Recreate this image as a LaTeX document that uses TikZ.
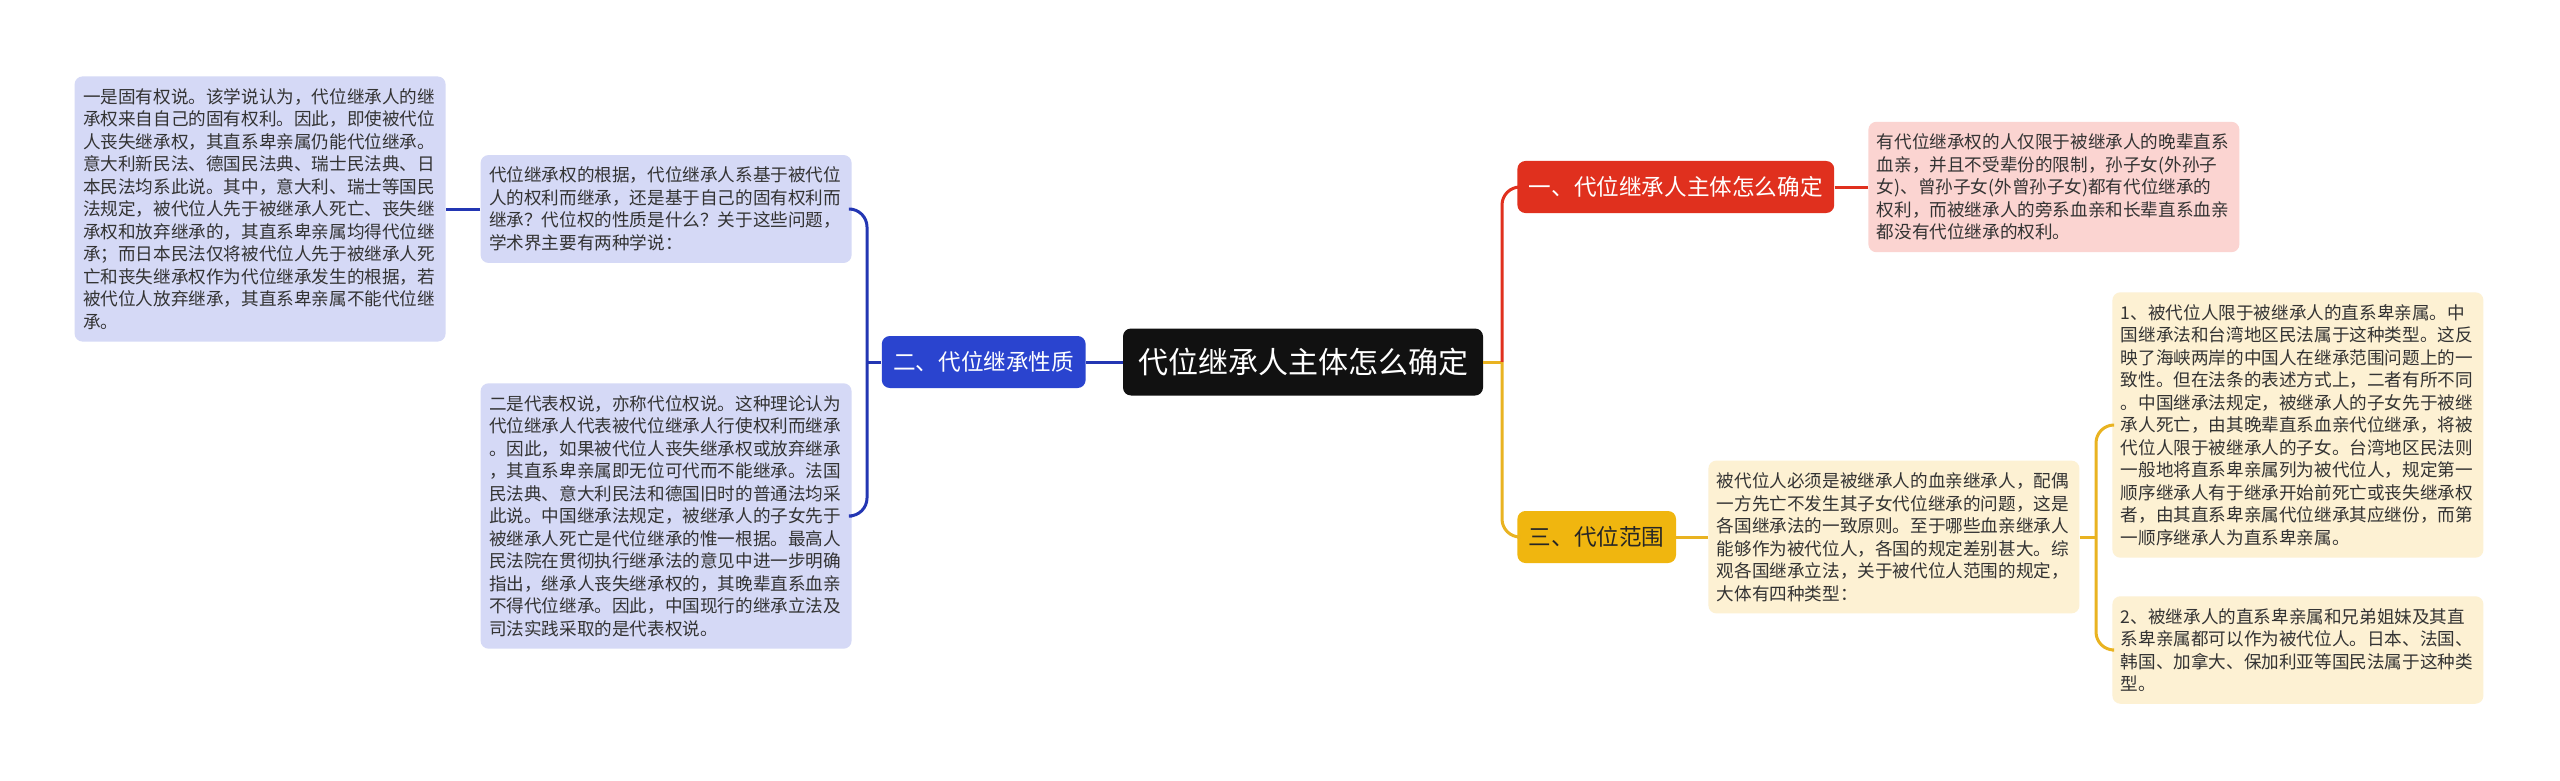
\documentclass[tikz,border=0pt]{standalone}
\usepackage{fontspec}
\usepackage{xcolor}
\newfontfamily\cjk{Noto Sans CJK SC}
\definecolor{rootblack}{HTML}{111111}
\definecolor{bluedeep}{HTML}{2A44CF}
\definecolor{blueline}{HTML}{2336B3}
\definecolor{bluepale}{HTML}{D5D9F6}
\definecolor{reddeep}{HTML}{E0301E}
\definecolor{redpale}{HTML}{FBD4D1}
\definecolor{yellowdeep}{HTML}{F0B60F}
\definecolor{yellowline}{HTML}{E9B321}
\definecolor{yellowpale}{HTML}{FDF1D3}
\definecolor{leaftext}{HTML}{333333}

\begin{document}
\begin{tikzpicture}[
        x=0.5pt, y=-0.5pt,
        font=\cjk,
        root/.style={fill=rootblack, text=white, rounded corners=4pt,
            font=\cjk\fontsize{15}{18}\selectfont, minimum height=33.5pt, inner xsep=7.5pt},
        topic/.style={rounded corners=4pt, font=\cjk\fontsize{11.3}{14}\selectfont,
            minimum height=26pt, inner xsep=5.75pt},
        leaf/.style={rounded corners=4pt, text=leaftext, font=\cjk\fontsize{8.8}{11.25}\selectfont,
            text width=177pt, align=left, inner xsep=4.25pt, inner ysep=6pt},
        bline/.style={draw=blueline, line width=1.5pt},
        rline/.style={draw=reddeep, line width=1.5pt},
        yline/.style={draw=yellowline, line width=1.5pt}
    ]
        \fill[white] (0,0) rectangle (2560,781);
        \useasboundingbox (0,0) rectangle (2560,781);

        \node[root] (main) at (1303,362) {代位继承人主体怎么确定};

        % left branch
        \node[topic, fill=bluedeep, text=white, anchor=east] (nature) at (1086,362) {二、代位继承性质};
        \node[leaf, fill=bluepale, anchor=east] (basis) at (852,209) {代位继承权的根据，代位继承人系基于被代位\\人的权利而继承，还是基于自己的固有权利而\\继承？代位权的性质是什么？关于这些问题，\\学术界主要有两种学说：};
        \node[leaf, fill=bluepale, anchor=east] (inherent) at (446,209) {一是固有权说。该学说认为，代位继承人的继\\承权来自自己的固有权利。因此，即使被代位\\人丧失继承权，其直系卑亲属仍能代位继承。\\意大利新民法、德国民法典、瑞士民法典、日\\本民法均系此说。其中，意大利、瑞士等国民\\法规定，被代位人先于被继承人死亡、丧失继\\承权和放弃继承的，其直系卑亲属均得代位继\\承；而日本民法仅将被代位人先于被继承人死\\亡和丧失继承权作为代位继承发生的根据，若\\被代位人放弃继承，其直系卑亲属不能代位继\\承。};
        \node[leaf, fill=bluepale, anchor=east] (represent) at (852,516) {二是代表权说，亦称代位权说。这种理论认为\\代位继承人代表被代位继承人行使权利而继承\\。因此，如果被代位人丧失继承权或放弃继承\\，其直系卑亲属即无位可代而不能继承。法国\\民法典、意大利民法和德国旧时的普通法均采\\此说。中国继承法规定，被继承人的子女先于\\被继承人死亡是代位继承的惟一根据。最高人\\民法院在贯彻执行继承法的意见中进一步明确\\指出，继承人丧失继承权的，其晚辈直系血亲\\不得代位继承。因此，中国现行的继承立法及\\司法实践采取的是代表权说。};

        % right branches
        \node[topic, fill=reddeep, text=white, anchor=west] (subject) at (1517,187) {一、代位继承人主体怎么确定};
        \node[leaf, fill=redpale, anchor=west] (limit) at (1868,187) {有代位继承权的人仅限于被继承人的晚辈直系\\血亲，并且不受辈份的限制，孙子女(外孙子\\女)、曾孙子女(外曾孙子女)都有代位继承的\\权利，而被继承人的旁系血亲和长辈直系血亲\\都没有代位继承的权利。};
        \node[topic, fill=yellowdeep, text=black!85, anchor=west] (scope) at (1517,537) {三、代位范围};
        \node[leaf, fill=yellowpale, anchor=west] (blood) at (1708,537) {被代位人必须是被继承人的血亲继承人，配偶\\一方先亡不发生其子女代位继承的问题，这是\\各国继承法的一致原则。至于哪些血亲继承人\\能够作为被代位人，各国的规定差别甚大。综\\观各国继承立法，关于被代位人范围的规定，\\大体有四种类型：};
        \node[leaf, fill=yellowpale, anchor=west] (typeA) at (2112,425) {1、被代位人限于被继承人的直系卑亲属。中\\国继承法和台湾地区民法属于这种类型。这反\\映了海峡两岸的中国人在继承范围问题上的一\\致性。但在法条的表述方式上，二者有所不同\\。中国继承法规定，被继承人的子女先于被继\\承人死亡，由其晚辈直系血亲代位继承，将被\\代位人限于被继承人的子女。台湾地区民法则\\一般地将直系卑亲属列为被代位人，规定第一\\顺序继承人有于继承开始前死亡或丧失继承权\\者，由其直系卑亲属代位继承其应继份，而第\\一顺序继承人为直系卑亲属。};
        \node[leaf, fill=yellowpale, anchor=west] (typeB) at (2112,650) {2、被继承人的直系卑亲属和兄弟姐妹及其直\\系卑亲属都可以作为被代位人。日本、法国、\\韩国、加拿大、保加利亚等国民法属于这种类\\型。};

        \coordinate (bt) at (867,362);
        \coordinate (rt) at (1502,362);
        \coordinate (yt) at (2096,537);

        \draw[bline] (main.west) -- (nature.east);
        \draw[bline] (nature.west) -- (bt);
        \draw[bline, rounded corners=9pt] (basis.east) -| (bt) |- (represent.east);
        \draw[bline] (basis.west) -- (inherent.east);

        \draw[yline] (main.east) -- (rt);
        \draw[rline, rounded corners=9pt] (rt) |- (subject.west);
        \draw[yline, rounded corners=9pt] (rt) |- (scope.west);
        \draw[rline] (subject.east) -- (limit.west);
        \draw[yline] (scope.east) -- (blood.west);
        \draw[yline] (blood.east) -- (yt);
        \draw[yline, rounded corners=9pt] (typeA.west) -| (yt) |- (typeB.west);
    \end{tikzpicture}
\end{document}
